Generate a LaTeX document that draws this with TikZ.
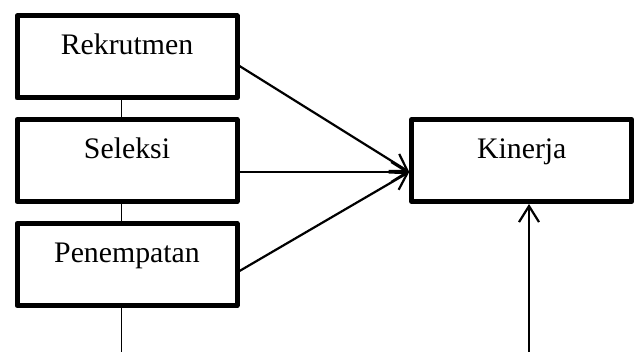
\documentclass[tikz,border=0pt]{standalone}
\usepackage{fontspec}
\setmainfont{Liberation Serif}
\usetikzlibrary{arrows.meta}
\begin{document}
\begin{tikzpicture}[x=1pt,y=-1pt,
  box/.style={draw, line width=5pt, line join=round, rectangle,
    minimum width=220pt, minimum height=82pt, inner sep=0pt,
    text height=20pt, text depth=24pt,
    font=\fontsize{29.8}{35}\selectfont},
  link/.style={line width=1.7pt},
  flow/.style={line width=2.2pt, -{Straight Barb[length=16pt,width=20pt]}}]
\useasboundingbox (0,0) rectangle (636,352);
\node[box] (rek) at (127,57) {Rekrutmen};
\node[box] (sel) at (127,160.5) {Seleksi};
\node[box] (pen) at (127,264.5) {Penempatan};
\node[box] (kin) at (521.75,160.5) {Kinerja};
\coordinate (penEnd) at (121.5,352);
\coordinate (kinIn) at (529,352);
\draw[link] ([xshift=-5.5pt]rek.south) -- ([xshift=-5.5pt]sel.north);
\draw[link] ([xshift=-5.5pt]sel.south) -- ([xshift=-5.5pt]pen.north);
\draw[link] ([xshift=-5.5pt]pen.south) -- (penEnd);
\draw[flow] ([yshift=-9pt]rek.east) -- ([yshift=-11.5pt]kin.west);
\draw[flow] ([yshift=-11.5pt]sel.east) -- ([yshift=-11.5pt]kin.west);
\draw[flow] ([yshift=-6.5pt]pen.east) -- ([yshift=-11.5pt]kin.west);
\draw[flow] (kinIn) -- (kin.south -| kinIn);
\end{tikzpicture}
\end{document}
